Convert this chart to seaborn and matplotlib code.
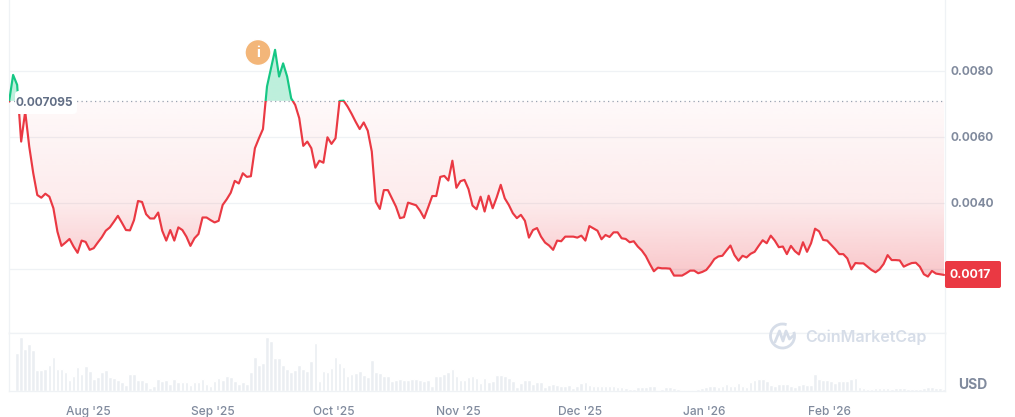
import numpy as np
import pandas as pd
import seaborn as sns
import matplotlib
matplotlib.use("Agg")
from matplotlib import pyplot as plt
from matplotlib import dates as mdates
from matplotlib.colors import LinearSegmentedColormap, to_rgb
from matplotlib.patches import Arc, Circle, FancyBboxPatch
from matplotlib.path import Path

sns.set_theme(style="white")
plt.rcParams['font.family'] = ['Inter', 'DejaVu Sans']

# price, in units of 0.0001 USD
price_e4 = [
    70.7, 78.8, 75.8, 58.6, 67.7, 57.1, 49.0, 42.4, 41.6, 42.8, 41.9, 38.4, 31.3, 27.0, 28.0, 29.1,
    26.8, 24.9, 28.6, 28.2, 25.8, 26.3, 28.0, 29.6, 31.6, 32.6, 34.3, 36.1, 34.0, 31.8, 31.7, 34.8,
    40.6, 40.3, 36.6, 35.3, 35.3, 37.1, 31.6, 28.6, 31.8, 28.6, 32.6, 31.8, 29.8, 27.0, 29.3, 30.6,
    35.6, 35.6, 34.8, 34.1, 34.6, 39.4, 41.1, 43.1, 46.7, 45.9, 49.0, 47.9, 48.1, 56.6, 59.6, 62.4,
    75.3, 80.8, 86.4, 78.3, 82.3, 78.3, 71.7, 69.7, 65.7, 57.3, 58.6, 56.6, 50.7, 52.8, 52.2, 59.9,
    57.9, 59.6, 70.9, 71.0, 69.2, 67.0, 64.6, 62.4, 64.4, 61.9, 55.6, 40.4, 38.2, 43.9, 43.9, 41.4,
    38.9, 35.4, 35.7, 40.1, 39.7, 39.3, 37.6, 35.4, 38.7, 42.1, 42.1, 47.9, 48.2, 46.8, 52.8, 44.6,
    46.6, 47.0, 44.2, 39.2, 38.1, 41.9, 37.4, 42.2, 38.4, 41.7, 45.5, 41.4, 39.4, 36.9, 35.4, 36.4,
    34.6, 29.5, 31.8, 32.4, 29.8, 28.0, 27.1, 25.8, 28.6, 28.4, 29.8, 29.8, 29.8, 29.5, 30.1, 28.6,
    33.0, 32.3, 31.6, 29.0, 30.3, 29.7, 31.1, 31.1, 29.3, 29.1, 28.1, 28.4, 26.8, 25.6, 23.9, 21.5,
    19.3, 20.4, 20.2, 20.2, 20.1, 18.0, 18.0, 18.0, 18.7, 19.5, 19.5, 18.7, 19.1, 19.7, 21.2, 23.0,
    23.8, 24.0, 25.6, 27.1, 24.2, 22.5, 24.0, 23.5, 24.6, 25.2, 27.0, 28.7, 27.8, 30.1, 28.6, 26.6,
    26.8, 24.5, 27.0, 25.4, 24.4, 28.1, 25.2, 27.8, 32.2, 31.4, 28.8, 28.6, 27.3, 26.0, 24.5, 24.5,
    23.2, 19.9, 21.8, 21.7, 21.7, 20.7, 19.7, 19.0, 19.9, 21.5, 24.2, 22.7, 22.7, 22.6, 20.7, 21.3,
    21.8, 21.9, 20.7, 18.4, 17.7, 19.4, 18.6, 18.4, 18.2,
]

# no scale on the volume panel, so these are relative heights
volume = [
    112, 160, 125, 140, 122, 62, 62, 65, 78, 102, 65, 65, 57, 32, 44, 71, 51, 75, 58, 34, 40, 56, 61, 42,
    38, 33, 27, 17, 50, 51, 33, 31, 25, 9, 15, 34, 28, 32, 21, 34, 26, 26, 26, 17, 25, 25, 35, 20, 14, 28,
    38, 31, 44, 42, 28, 21, 27, 21, 56, 100, 78, 82, 162, 150, 98, 98, 78, 65, 57, 62, 78, 65, 58, 88, 142,
    28, 58, 55, 68, 100, 82, 70, 45, 50, 52, 58, 48, 42, 92, 55, 52, 45, 45, 28, 33, 35, 32, 32, 35, 35, 32,
    29, 32, 14, 45, 45, 50, 57, 65, 45, 32, 33, 42, 43, 37, 23, 38, 25, 28, 48, 48, 43, 38, 30, 10, 22, 32,
    32, 20, 25, 27, 10, 17, 20, 16, 15, 15, 16, 8, 13, 24, 26, 17, 15, 14, 14, 14, 14, 15, 11, 11, 8, 5, 4,
    10, 10, 11, 13, 14, 3, 4, 10, 11, 8, 6, 3, 3, 3, 3, 4, 8, 12, 15, 15, 12, 15, 20, 15, 13, 24, 15, 12,
    25, 32, 35, 35, 30, 18, 15, 20, 20, 20, 15, 12, 18, 20, 18, 18, 50, 35, 33, 33, 30, 24, 30, 30, 28, 35,
    37, 12, 8, 6, 6, 8, 8, 8, 8, 6, 8, 8, 8, 6, 4, 4, 4, 8, 10, 11, 8, 8, 6,
]

base_price = 0.007095
last_price = "0.0017"
price_ticks = [0.0020, 0.0040, 0.0060, 0.0080]
price_labels = ["", "0.0040", "0.0060", "0.0080"]
month_ticks = ["2025-08-01", "2025-09-01", "2025-10-01", "2025-11-01", "2025-12-01", "2026-01-01", "2026-02-01"]
month_labels = ["Aug '25", "Sep '25", "Oct '25", "Nov '25", "Dec '25", "Jan '26", "Feb '26"]

RED = "#ea3943"
GREEN = "#16c784"
GRID = "#eff2f5"
TEXT = "#808a9d"
W, H = 1015, 417

price = np.array(price_e4) / 1e4
dates = pd.date_range("2025-07-12 10:00", periods=len(price), freq="D")
days = mdates.date2num(dates)
df = pd.DataFrame({"day": days, "price": price})
vol_days = mdates.date2num(pd.date_range("2025-07-14 10:00", periods=len(volume), freq="D"))
vol_df = pd.DataFrame({"day": vol_days, "volume": volume})

fig = plt.figure(figsize=(W / 100, H / 100), dpi=100, facecolor="white")


def px_axes(left, top, right, bottom):
    return fig.add_axes([left / W, 1 - bottom / H, (right - left) / W, (bottom - top) / H])


ax = px_axes(8.5, 0, 945, 333)
ax_vol = px_axes(8.5, 333, 945, 390.5)

aug1 = mdates.date2num(pd.Timestamp("2025-08-01"))
xlim = (aug1 - (88 - 8.5) / 4.03, aug1 + (945 - 88) / 4.03)
ylim = (0.00006, 0.01015)

# gradient fills under the baseline and over it
fill_low = ax.fill_between(days, price, base_price, where=price <= base_price, interpolate=True, facecolor="none", lw=0)
fill_high = ax.fill_between(days, price, base_price, where=price >= base_price, interpolate=True, facecolor="none", lw=0)


def gradient(poly, color, stops, y_top, y_bottom):
    rgb = to_rgb(color)
    cmap = LinearSegmentedColormap.from_list("g", [(pos, (*rgb, a)) for pos, a in stops])
    im = ax.imshow(np.linspace(0, 1, 256).reshape(-1, 1), cmap=cmap, aspect="auto", zorder=1.5,
                   extent=(xlim[0], xlim[1], y_bottom, y_top), interpolation="bilinear")
    im.set_clip_path(Path.make_compound_path(*poly.get_paths()), transform=ax.transData)


gradient(fill_low, RED, [(0, 0.03), (0.56, 0.10), (1, 0.30)], base_price, 0.0016)
gradient(fill_high, GREEN, [(0, 0.28), (1, 0.28)], 0.0090, base_price)

# same line twice, clipped at the baseline so it changes colour there
sns.lineplot(data=df, x="day", y="price", color=RED, lw=1.55, ax=ax, zorder=3, errorbar=None)
sns.lineplot(data=df, x="day", y="price", color=GREEN, lw=1.55, ax=ax, zorder=3, errorbar=None)
low_line, high_line = ax.get_lines()[-2:]
low_clip = plt.Rectangle((xlim[0], 0), xlim[1] - xlim[0], base_price, transform=ax.transData)
high_clip = plt.Rectangle((xlim[0], base_price), xlim[1] - xlim[0], 0.01, transform=ax.transData)
low_line.set_clip_path(low_clip)
high_line.set_clip_path(high_clip)
ax.axhline(base_price, color="#9aa3b2", lw=0.9, ls=(0, (1, 2.6)), zorder=2.5)

sns.barplot(data=vol_df, x="day", y="volume", native_scale=True, color="#ebeef2", saturation=1,
            width=0.92, errorbar=None, ax=ax_vol)

ax.set_xlim(xlim)
ax.set_ylim(ylim)
ax_vol.set_xlim(xlim)
ax_vol.set_ylim(0, 173)

ax.set_xticks([])
ax.set_xlabel("")
ax.set_ylabel("")
ax.yaxis.tick_right()
ax.set_yticks(price_ticks, price_labels)
ax.tick_params(axis="y", length=0, pad=4, labelcolor=TEXT, labelsize=8.5)
for lab in ax.get_yticklabels():
    lab.set_fontweight("bold")
ax.grid(axis="y", color=GRID, lw=0.9)
ax.set_axisbelow(True)

ax_vol.set_yticks([])
ax_vol.set_xlabel("")
ax_vol.set_ylabel("")
ax_vol.set_xticks(mdates.date2num(pd.to_datetime(month_ticks)), month_labels)
ax_vol.tick_params(axis="x", length=0, pad=11, labelcolor=TEXT, labelsize=8.6)
for lab in ax_vol.get_xticklabels():
    lab.set_fontweight(500)

for a in (ax, ax_vol):
    for side in a.spines:
        a.spines[side].set_color(GRID)
        a.spines[side].set_linewidth(0.9)
ax.spines["top"].set_visible(False)

# overlay in pixel coordinates for the badges and the watermark
over = fig.add_axes([0, 0, 1, 1], zorder=10)
over.set_xlim(0, W)
over.set_ylim(H, 0)
over.axis("off")
over.patch.set_alpha(0)

over.add_patch(FancyBboxPatch((15, 91), 62, 23, boxstyle="round,pad=0,rounding_size=4", fc="white", ec="none"))
over.text(16, 102.5, "0.007095", color="#616e85", fontsize=8.5, fontweight="bold", va="center", ha="left")

over.add_patch(FancyBboxPatch((945, 261), 56, 27, boxstyle="round,pad=0,rounding_size=2", fc=RED, ec="none"))
over.text(970.5, 275, last_price, color="white", fontsize=8.8, fontweight="bold", va="center", ha="center")
over.text(972.5, 385, "USD", color=TEXT, fontsize=10, fontweight="bold", va="center", ha="center")

over.add_patch(Circle((258, 52.5), 13, fc="#f3b679", ec="white", lw=1))
over.text(258, 52.5, "i", color="white", fontsize=10.5, fontweight="bold", va="center", ha="center")

mark = "#d6dde8"
over.add_patch(Arc((782.5, 336), 24, 24, theta1=-20, theta2=290, color=mark, lw=2))
over.plot([775, 779.5, 783, 786, 789.5, 794], [342, 331, 341, 331, 339, 335], color=mark, lw=2)
over.text(805, 337, "CoinMarketCap", color=mark, fontsize=11.6, fontweight=600, va="center", ha="left")

fig.savefig("out.png", dpi=100, facecolor="white")
